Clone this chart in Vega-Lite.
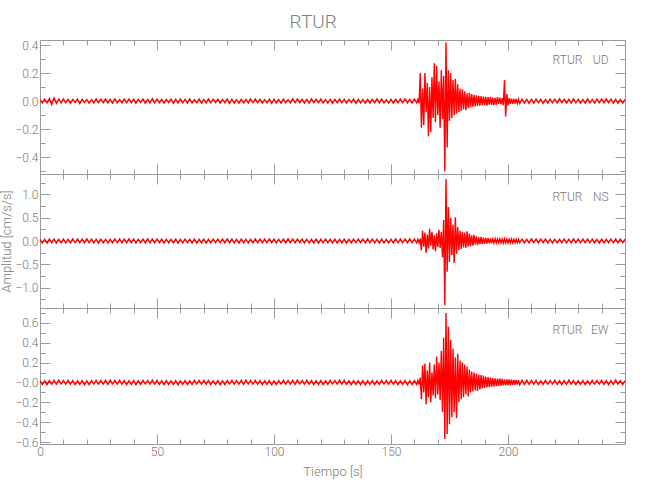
{
"$schema": "https://vega.github.io/schema/vega-lite/v6.json",
"padding": {"left": 0, "top": 12, "right": 5, "bottom": 5},
"spacing": 0,
"bounds": "flush",
"title": {"text": "RTUR", "fontSize": 19, "fontWeight": 300, "color": "#808080", "offset": 7, "anchor": "middle"},
"config": {
  "font": "Roboto, Liberation Sans, sans-serif",
  "view": {"stroke": "#9a9a9a", "strokeWidth": 1},
  "axis": {"domain": false, "grid": false, "tickColor": "#9a9a9a", "tickWidth": 1, "labelColor": "#7a7a7a", "titleColor": "#7a7a7a", "labelFontSize": 12, "labelFontWeight": 300, "titleFontSize": 13, "titleFontWeight": 300, "labelOverlap": false, "labelFlush": false, "labelBound": false}
},
"datasets": {
"ud": [
{"t":0,"v":0.010},{"t":1,"v":-0.013},{"t":2,"v":0.015},{"t":3,"v":-0.012},{"t":4,"v":0.018},{"t":5,"v":-0.024},{"t":6,"v":0.022},{"t":7,"v":-0.017},{"t":8,"v":0.014},{"t":9,"v":-0.012},
{"t":10,"v":0.015},{"t":11,"v":-0.011},{"t":12,"v":0.013},{"t":13,"v":-0.016},{"t":14,"v":0.012},{"t":15,"v":-0.010},{"t":16,"v":0.014},{"t":17,"v":-0.017},{"t":18,"v":0.013},{"t":19,"v":-0.011},
{"t":20,"v":0.012},{"t":21,"v":-0.015},{"t":22,"v":0.010},{"t":23,"v":-0.013},{"t":24,"v":0.016},{"t":25,"v":-0.012},{"t":26,"v":0.014},{"t":27,"v":-0.011},{"t":28,"v":0.015},{"t":29,"v":-0.013},
{"t":30,"v":0.011},{"t":31,"v":-0.014},{"t":32,"v":0.016},{"t":33,"v":-0.012},{"t":34,"v":0.010},{"t":35,"v":-0.013},{"t":36,"v":0.015},{"t":37,"v":-0.012},{"t":38,"v":0.014},{"t":39,"v":-0.011},
{"t":40,"v":0.013},{"t":41,"v":-0.016},{"t":42,"v":0.012},{"t":43,"v":-0.010},{"t":44,"v":0.014},{"t":45,"v":-0.015},{"t":46,"v":0.011},{"t":47,"v":-0.013},{"t":48,"v":0.017},{"t":49,"v":-0.012},
{"t":50,"v":0.014},{"t":51,"v":-0.011},{"t":52,"v":0.013},{"t":53,"v":-0.015},{"t":54,"v":0.012},{"t":55,"v":-0.010},{"t":56,"v":0.014},{"t":57,"v":-0.016},{"t":58,"v":0.012},{"t":59,"v":-0.013},
{"t":60,"v":0.015},{"t":61,"v":-0.011},{"t":62,"v":0.012},{"t":63,"v":-0.014},{"t":64,"v":0.016},{"t":65,"v":-0.013},{"t":66,"v":0.010},{"t":67,"v":-0.012},{"t":68,"v":0.015},{"t":69,"v":-0.014},
{"t":70,"v":0.011},{"t":71,"v":-0.013},{"t":72,"v":0.016},{"t":73,"v":-0.012},{"t":74,"v":0.014},{"t":75,"v":-0.010},{"t":76,"v":0.013},{"t":77,"v":-0.015},{"t":78,"v":0.012},{"t":79,"v":-0.011},
{"t":80,"v":0.014},{"t":81,"v":-0.016},{"t":82,"v":0.012},{"t":83,"v":-0.013},{"t":84,"v":0.010},{"t":85,"v":-0.015},{"t":86,"v":0.012},{"t":87,"v":-0.014},{"t":88,"v":0.011},{"t":89,"v":-0.013},
{"t":90,"v":0.016},{"t":91,"v":-0.012},{"t":92,"v":0.014},{"t":93,"v":-0.011},{"t":94,"v":0.013},{"t":95,"v":-0.015},{"t":96,"v":0.010},{"t":97,"v":-0.012},{"t":98,"v":0.014},{"t":99,"v":-0.016},
{"t":100,"v":0.012},{"t":101,"v":-0.013},{"t":102,"v":0.011},{"t":103,"v":-0.015},{"t":104,"v":0.014},{"t":105,"v":-0.012},{"t":106,"v":0.010},{"t":107,"v":-0.013},{"t":108,"v":0.016},{"t":109,"v":-0.012},
{"t":110,"v":0.014},{"t":111,"v":-0.011},{"t":112,"v":0.013},{"t":113,"v":-0.015},{"t":114,"v":0.012},{"t":115,"v":-0.014},{"t":116,"v":0.016},{"t":117,"v":-0.011},{"t":118,"v":0.013},{"t":119,"v":-0.012},
{"t":120,"v":0.015},{"t":121,"v":-0.013},{"t":122,"v":0.010},{"t":123,"v":-0.014},{"t":124,"v":0.012},{"t":125,"v":-0.016},{"t":126,"v":0.013},{"t":127,"v":-0.011},{"t":128,"v":0.014},{"t":129,"v":-0.012},
{"t":130,"v":0.013},{"t":131,"v":-0.015},{"t":132,"v":0.012},{"t":133,"v":-0.010},{"t":134,"v":0.014},{"t":135,"v":-0.016},{"t":136,"v":0.012},{"t":137,"v":-0.013},{"t":138,"v":0.011},{"t":139,"v":-0.015},
{"t":140,"v":0.012},{"t":141,"v":-0.014},{"t":142,"v":0.013},{"t":143,"v":-0.011},{"t":144,"v":0.016},{"t":145,"v":-0.012},{"t":146,"v":0.015},{"t":147,"v":-0.013},{"t":148,"v":0.010},{"t":149,"v":-0.014},
{"t":150,"v":0.012},{"t":151,"v":-0.015},{"t":152,"v":0.013},{"t":153,"v":-0.011},{"t":154,"v":0.014},{"t":155,"v":-0.012},{"t":156,"v":0.016},{"t":157,"v":-0.013},{"t":158,"v":0.012},{"t":159,"v":-0.014},
{"t":160,"v":0.015},{"t":161,"v":-0.013},
{"t":161.5,"v":0.012},{"t":162,"v":-0.015},{"t":162.5,"v":0.2},{"t":163,"v":-0.19},{"t":163.5,"v":0.09},{"t":164,"v":-0.17},{"t":164.5,"v":0.2},{"t":165,"v":-0.08},{"t":165.5,"v":0.13},{"t":166,"v":-0.25},
{"t":166.5,"v":0.1},{"t":167,"v":-0.22},{"t":167.5,"v":0.17},{"t":168,"v":-0.12},{"t":168.5,"v":0.27},{"t":169,"v":-0.15},{"t":169.5,"v":0.25},{"t":170,"v":-0.1},{"t":170.5,"v":0.14},{"t":171,"v":-0.19},
{"t":171.5,"v":0.22},{"t":172,"v":-0.13},{"t":172.5,"v":0.18},{"t":173,"v":-0.5},{"t":173.5,"v":0.42},{"t":174,"v":-0.33},{"t":174.5,"v":0.22},{"t":175,"v":-0.14},{"t":175.5,"v":0.2},{"t":176,"v":-0.12},
{"t":176.5,"v":0.15},{"t":177,"v":-0.1},{"t":177.5,"v":0.16},{"t":178,"v":-0.09},{"t":178.5,"v":0.12},{"t":179,"v":-0.08},{"t":179.5,"v":0.09},{"t":180,"v":-0.07},{"t":180.5,"v":0.085},{"t":181,"v":-0.06},
{"t":181.5,"v":0.07},{"t":182,"v":-0.065},{"t":182.5,"v":0.055},{"t":183,"v":-0.05},{"t":183.5,"v":0.06},{"t":184,"v":-0.045},{"t":184.5,"v":0.05},{"t":185,"v":-0.04},{"t":185.5,"v":0.045},{"t":186,"v":-0.038},
{"t":186.5,"v":0.042},{"t":187,"v":-0.035},{"t":187.5,"v":0.038},{"t":188,"v":-0.032},{"t":188.5,"v":0.035},{"t":189,"v":-0.03},{"t":189.5,"v":0.033},{"t":190,"v":-0.028},{"t":190.5,"v":0.03},{"t":191,"v":-0.032},
{"t":191.5,"v":0.028},{"t":192,"v":-0.025},{"t":192.5,"v":0.03},{"t":193,"v":-0.027},{"t":193.5,"v":0.025},{"t":194,"v":-0.028},{"t":194.5,"v":0.024},{"t":195,"v":-0.026},{"t":195.5,"v":0.028},{"t":196,"v":-0.022},
{"t":196.5,"v":0.025},{"t":197,"v":-0.024},{"t":197.5,"v":0.022},{"t":198,"v":-0.03},{"t":198.5,"v":0.15},{"t":199,"v":-0.11},{"t":199.5,"v":0.05},{"t":200,"v":-0.03},{"t":200.5,"v":0.022},{"t":201,"v":-0.02},
{"t":201.5,"v":0.018},{"t":202,"v":-0.02},{"t":202.5,"v":0.016},{"t":203,"v":-0.018},{"t":203.5,"v":0.015},{"t":204,"v":-0.017},{"t":204.5,"v":0.014},{"t":205,"v":-0.016},
{"t":206,"v":0.014},{"t":207,"v":-0.015},{"t":208,"v":0.013},{"t":209,"v":-0.016},{"t":210,"v":0.012},{"t":211,"v":-0.014},{"t":212,"v":0.015},{"t":213,"v":-0.012},{"t":214,"v":0.013},{"t":215,"v":-0.016},
{"t":216,"v":0.011},{"t":217,"v":-0.014},{"t":218,"v":0.015},{"t":219,"v":-0.012},{"t":220,"v":0.014},{"t":221,"v":-0.013},{"t":222,"v":0.016},{"t":223,"v":-0.011},{"t":224,"v":0.013},{"t":225,"v":-0.015},
{"t":226,"v":0.012},{"t":227,"v":-0.014},{"t":228,"v":0.016},{"t":229,"v":-0.012},{"t":230,"v":0.013},{"t":231,"v":-0.015},{"t":232,"v":0.011},{"t":233,"v":-0.014},{"t":234,"v":0.016},{"t":235,"v":-0.013},
{"t":236,"v":0.012},{"t":237,"v":-0.015},{"t":238,"v":0.014},{"t":239,"v":-0.012},{"t":240,"v":0.015},{"t":241,"v":-0.013},{"t":242,"v":0.016},{"t":243,"v":-0.012},{"t":244,"v":0.014},{"t":245,"v":-0.015},
{"t":246,"v":0.013},{"t":247,"v":-0.014},{"t":248,"v":0.012},{"t":249,"v":-0.015},{"t":250,"v":0.013}
],
"ns": [
{"t":0,"v":0.035},{"t":1,"v":-0.040},{"t":2,"v":0.038},{"t":3,"v":-0.045},{"t":4,"v":0.042},{"t":5,"v":-0.036},{"t":6,"v":0.040},{"t":7,"v":-0.044},{"t":8,"v":0.037},{"t":9,"v":-0.041},
{"t":10,"v":0.039},{"t":11,"v":-0.043},{"t":12,"v":0.036},{"t":13,"v":-0.040},{"t":14,"v":0.045},{"t":15,"v":-0.038},{"t":16,"v":0.042},{"t":17,"v":-0.035},{"t":18,"v":0.041},{"t":19,"v":-0.039},
{"t":20,"v":0.044},{"t":21,"v":-0.037},{"t":22,"v":0.040},{"t":23,"v":-0.042},{"t":24,"v":0.036},{"t":25,"v":-0.045},{"t":26,"v":0.039},{"t":27,"v":-0.041},{"t":28,"v":0.038},{"t":29,"v":-0.043},
{"t":30,"v":0.036},{"t":31,"v":-0.040},{"t":32,"v":0.044},{"t":33,"v":-0.038},{"t":34,"v":0.042},{"t":35,"v":-0.035},{"t":36,"v":0.041},{"t":37,"v":-0.039},{"t":38,"v":0.045},{"t":39,"v":-0.037},
{"t":40,"v":0.040},{"t":41,"v":-0.043},{"t":42,"v":0.038},{"t":43,"v":-0.036},{"t":44,"v":0.042},{"t":45,"v":-0.040},{"t":46,"v":0.045},{"t":47,"v":-0.037},{"t":48,"v":0.041},{"t":49,"v":-0.039},
{"t":50,"v":0.043},{"t":51,"v":-0.036},{"t":52,"v":0.040},{"t":53,"v":-0.044},{"t":54,"v":0.038},{"t":55,"v":-0.041},{"t":56,"v":0.035},{"t":57,"v":-0.042},{"t":58,"v":0.039},{"t":59,"v":-0.045},
{"t":60,"v":0.037},{"t":61,"v":-0.040},{"t":62,"v":0.043},{"t":63,"v":-0.038},{"t":64,"v":0.036},{"t":65,"v":-0.042},{"t":66,"v":0.040},{"t":67,"v":-0.044},{"t":68,"v":0.037},{"t":69,"v":-0.041},
{"t":70,"v":0.039},{"t":71,"v":-0.045},{"t":72,"v":0.036},{"t":73,"v":-0.040},{"t":74,"v":0.042},{"t":75,"v":-0.038},{"t":76,"v":0.043},{"t":77,"v":-0.035},{"t":78,"v":0.041},{"t":79,"v":-0.039},
{"t":80,"v":0.044},{"t":81,"v":-0.037},{"t":82,"v":0.040},{"t":83,"v":-0.042},{"t":84,"v":0.036},{"t":85,"v":-0.045},{"t":86,"v":0.039},{"t":87,"v":-0.041},{"t":88,"v":0.038},{"t":89,"v":-0.043},
{"t":90,"v":0.036},{"t":91,"v":-0.040},{"t":92,"v":0.044},{"t":93,"v":-0.038},{"t":94,"v":0.042},{"t":95,"v":-0.035},{"t":96,"v":0.041},{"t":97,"v":-0.039},{"t":98,"v":0.045},{"t":99,"v":-0.037},
{"t":100,"v":0.040},{"t":101,"v":-0.043},{"t":102,"v":0.038},{"t":103,"v":-0.036},{"t":104,"v":0.042},{"t":105,"v":-0.040},{"t":106,"v":0.045},{"t":107,"v":-0.037},{"t":108,"v":0.041},{"t":109,"v":-0.039},
{"t":110,"v":0.043},{"t":111,"v":-0.036},{"t":112,"v":0.040},{"t":113,"v":-0.044},{"t":114,"v":0.038},{"t":115,"v":-0.041},{"t":116,"v":0.035},{"t":117,"v":-0.042},{"t":118,"v":0.039},{"t":119,"v":-0.045},
{"t":120,"v":0.037},{"t":121,"v":-0.040},{"t":122,"v":0.043},{"t":123,"v":-0.038},{"t":124,"v":0.036},{"t":125,"v":-0.042},{"t":126,"v":0.040},{"t":127,"v":-0.044},{"t":128,"v":0.037},{"t":129,"v":-0.041},
{"t":130,"v":0.039},{"t":131,"v":-0.045},{"t":132,"v":0.036},{"t":133,"v":-0.040},{"t":134,"v":0.042},{"t":135,"v":-0.038},{"t":136,"v":0.043},{"t":137,"v":-0.035},{"t":138,"v":0.041},{"t":139,"v":-0.039},
{"t":140,"v":0.044},{"t":141,"v":-0.037},{"t":142,"v":0.040},{"t":143,"v":-0.042},{"t":144,"v":0.036},{"t":145,"v":-0.045},{"t":146,"v":0.039},{"t":147,"v":-0.041},{"t":148,"v":0.038},{"t":149,"v":-0.043},
{"t":150,"v":0.036},{"t":151,"v":-0.040},{"t":152,"v":0.044},{"t":153,"v":-0.038},{"t":154,"v":0.042},{"t":155,"v":-0.035},{"t":156,"v":0.041},{"t":157,"v":-0.039},{"t":158,"v":0.045},{"t":159,"v":-0.037},
{"t":160,"v":0.040},{"t":161,"v":-0.042},
{"t":161.5,"v":0.035},{"t":162,"v":-0.04},{"t":162.5,"v":0.05},{"t":163,"v":-0.2},{"t":163.5,"v":0.22},{"t":164,"v":-0.12},{"t":164.5,"v":0.18},{"t":165,"v":-0.25},{"t":165.5,"v":0.14},{"t":166,"v":-0.16},
{"t":166.5,"v":0.26},{"t":167,"v":-0.1},{"t":167.5,"v":0.2},{"t":168,"v":-0.18},{"t":168.5,"v":0.12},{"t":169,"v":-0.22},{"t":169.5,"v":0.17},{"t":170,"v":-0.13},{"t":170.5,"v":0.24},{"t":171,"v":-0.15},
{"t":171.5,"v":0.2},{"t":172,"v":-0.35},{"t":172.5,"v":0.45},{"t":173,"v":-1.38},{"t":173.5,"v":1.33},{"t":174,"v":-0.66},{"t":174.5,"v":0.73},{"t":175,"v":-0.45},{"t":175.5,"v":0.5},{"t":176,"v":-0.3},
{"t":176.5,"v":0.35},{"t":177,"v":-0.47},{"t":177.5,"v":0.51},{"t":178,"v":-0.28},{"t":178.5,"v":0.3},{"t":179,"v":-0.2},{"t":179.5,"v":0.22},{"t":180,"v":-0.17},{"t":180.5,"v":0.2},{"t":181,"v":-0.14},
{"t":181.5,"v":0.18},{"t":182,"v":-0.15},{"t":182.5,"v":0.21},{"t":183,"v":-0.12},{"t":183.5,"v":0.16},{"t":184,"v":-0.11},{"t":184.5,"v":0.12},{"t":185,"v":-0.1},{"t":185.5,"v":0.13},{"t":186,"v":-0.08},
{"t":186.5,"v":0.1},{"t":187,"v":-0.09},{"t":187.5,"v":0.08},{"t":188,"v":-0.07},{"t":188.5,"v":0.09},{"t":189,"v":-0.065},{"t":189.5,"v":0.07},{"t":190,"v":-0.06},{"t":190.5,"v":0.065},{"t":191,"v":-0.055},
{"t":191.5,"v":0.06},{"t":192,"v":-0.05},{"t":192.5,"v":0.055},{"t":193,"v":-0.05},{"t":193.5,"v":0.048},{"t":194,"v":-0.045},{"t":194.5,"v":0.05},{"t":195,"v":-0.042},{"t":195.5,"v":0.045},{"t":196,"v":-0.04},
{"t":196.5,"v":0.048},{"t":197,"v":-0.042},{"t":197.5,"v":0.04},{"t":198,"v":-0.045},{"t":198.5,"v":0.05},{"t":199,"v":-0.04},{"t":199.5,"v":0.042},{"t":200,"v":-0.045},{"t":200.5,"v":0.04},{"t":201,"v":-0.038},
{"t":201.5,"v":0.042},{"t":202,"v":-0.04},{"t":202.5,"v":0.038},{"t":203,"v":-0.036},{"t":203.5,"v":0.04},{"t":204,"v":-0.038},{"t":204.5,"v":0.035},{"t":205,"v":-0.037},
{"t":206,"v":0.038},{"t":207,"v":-0.042},{"t":208,"v":0.036},{"t":209,"v":-0.040},{"t":210,"v":0.044},{"t":211,"v":-0.037},{"t":212,"v":0.041},{"t":213,"v":-0.039},{"t":214,"v":0.043},{"t":215,"v":-0.036},
{"t":216,"v":0.040},{"t":217,"v":-0.042},{"t":218,"v":0.038},{"t":219,"v":-0.045},{"t":220,"v":0.037},{"t":221,"v":-0.041},{"t":222,"v":0.039},{"t":223,"v":-0.036},{"t":224,"v":0.043},{"t":225,"v":-0.040},
{"t":226,"v":0.038},{"t":227,"v":-0.042},{"t":228,"v":0.044},{"t":229,"v":-0.037},{"t":230,"v":0.040},{"t":231,"v":-0.039},{"t":232,"v":0.041},{"t":233,"v":-0.036},{"t":234,"v":0.043},{"t":235,"v":-0.038},
{"t":236,"v":0.040},{"t":237,"v":-0.042},{"t":238,"v":0.037},{"t":239,"v":-0.044},{"t":240,"v":0.039},{"t":241,"v":-0.041},{"t":242,"v":0.036},{"t":243,"v":-0.040},{"t":244,"v":0.043},{"t":245,"v":-0.038},
{"t":246,"v":0.042},{"t":247,"v":-0.037},{"t":248,"v":0.040},{"t":249,"v":-0.039},{"t":250,"v":0.041}
],
"ew": [
{"t":0,"v":0.018},{"t":1,"v":-0.020},{"t":2,"v":0.016},{"t":3,"v":-0.022},{"t":4,"v":0.019},{"t":5,"v":-0.017},{"t":6,"v":0.021},{"t":7,"v":-0.018},{"t":8,"v":0.023},{"t":9,"v":-0.016},
{"t":10,"v":0.020},{"t":11,"v":-0.018},{"t":12,"v":0.022},{"t":13,"v":-0.017},{"t":14,"v":0.019},{"t":15,"v":-0.021},{"t":16,"v":0.016},{"t":17,"v":-0.020},{"t":18,"v":0.018},{"t":19,"v":-0.023},
{"t":20,"v":0.017},{"t":21,"v":-0.021},{"t":22,"v":0.019},{"t":23,"v":-0.016},{"t":24,"v":0.022},{"t":25,"v":-0.018},{"t":26,"v":0.020},{"t":27,"v":-0.017},{"t":28,"v":0.021},{"t":29,"v":-0.019},
{"t":30,"v":0.023},{"t":31,"v":-0.016},{"t":32,"v":0.020},{"t":33,"v":-0.018},{"t":34,"v":0.022},{"t":35,"v":-0.017},{"t":36,"v":0.019},{"t":37,"v":-0.021},{"t":38,"v":0.016},{"t":39,"v":-0.020},
{"t":40,"v":0.018},{"t":41,"v":-0.022},{"t":42,"v":0.017},{"t":43,"v":-0.019},{"t":44,"v":0.021},{"t":45,"v":-0.016},{"t":46,"v":0.020},{"t":47,"v":-0.018},{"t":48,"v":0.023},{"t":49,"v":-0.017},
{"t":50,"v":0.021},{"t":51,"v":-0.019},{"t":52,"v":0.016},{"t":53,"v":-0.022},{"t":54,"v":0.018},{"t":55,"v":-0.020},{"t":56,"v":0.017},{"t":57,"v":-0.021},{"t":58,"v":0.019},{"t":59,"v":-0.023},
{"t":60,"v":0.016},{"t":61,"v":-0.020},{"t":62,"v":0.018},{"t":63,"v":-0.022},{"t":64,"v":0.017},{"t":65,"v":-0.019},{"t":66,"v":0.021},{"t":67,"v":-0.016},{"t":68,"v":0.020},{"t":69,"v":-0.018},
{"t":70,"v":0.022},{"t":71,"v":-0.017},{"t":72,"v":0.019},{"t":73,"v":-0.021},{"t":74,"v":0.016},{"t":75,"v":-0.020},{"t":76,"v":0.018},{"t":77,"v":-0.023},{"t":78,"v":0.017},{"t":79,"v":-0.021},
{"t":80,"v":0.019},{"t":81,"v":-0.016},{"t":82,"v":0.022},{"t":83,"v":-0.018},{"t":84,"v":0.020},{"t":85,"v":-0.017},{"t":86,"v":0.021},{"t":87,"v":-0.019},{"t":88,"v":0.023},{"t":89,"v":-0.016},
{"t":90,"v":0.020},{"t":91,"v":-0.018},{"t":92,"v":0.022},{"t":93,"v":-0.017},{"t":94,"v":0.019},{"t":95,"v":-0.021},{"t":96,"v":0.016},{"t":97,"v":-0.020},{"t":98,"v":0.018},{"t":99,"v":-0.023},
{"t":100,"v":0.017},{"t":101,"v":-0.021},{"t":102,"v":0.019},{"t":103,"v":-0.016},{"t":104,"v":0.022},{"t":105,"v":-0.018},{"t":106,"v":0.020},{"t":107,"v":-0.017},{"t":108,"v":0.021},{"t":109,"v":-0.019},
{"t":110,"v":0.023},{"t":111,"v":-0.016},{"t":112,"v":0.020},{"t":113,"v":-0.018},{"t":114,"v":0.022},{"t":115,"v":-0.017},{"t":116,"v":0.019},{"t":117,"v":-0.021},{"t":118,"v":0.016},{"t":119,"v":-0.020},
{"t":120,"v":0.018},{"t":121,"v":-0.022},{"t":122,"v":0.017},{"t":123,"v":-0.019},{"t":124,"v":0.021},{"t":125,"v":-0.016},{"t":126,"v":0.020},{"t":127,"v":-0.018},{"t":128,"v":0.023},{"t":129,"v":-0.017},
{"t":130,"v":0.021},{"t":131,"v":-0.019},{"t":132,"v":0.016},{"t":133,"v":-0.022},{"t":134,"v":0.018},{"t":135,"v":-0.020},{"t":136,"v":0.017},{"t":137,"v":-0.021},{"t":138,"v":0.019},{"t":139,"v":-0.023},
{"t":140,"v":0.016},{"t":141,"v":-0.020},{"t":142,"v":0.018},{"t":143,"v":-0.022},{"t":144,"v":0.017},{"t":145,"v":-0.019},{"t":146,"v":0.021},{"t":147,"v":-0.016},{"t":148,"v":0.020},{"t":149,"v":-0.018},
{"t":150,"v":0.022},{"t":151,"v":-0.017},{"t":152,"v":0.019},{"t":153,"v":-0.021},{"t":154,"v":0.016},{"t":155,"v":-0.020},{"t":156,"v":0.018},{"t":157,"v":-0.023},{"t":158,"v":0.017},{"t":159,"v":-0.021},
{"t":160,"v":0.019},{"t":161,"v":-0.020},
{"t":161.5,"v":0.02},{"t":162,"v":-0.022},{"t":162.5,"v":0.05},{"t":163,"v":-0.17},{"t":163.5,"v":0.17},{"t":164,"v":-0.1},{"t":164.5,"v":0.19},{"t":165,"v":-0.22},{"t":165.5,"v":0.12},{"t":166,"v":-0.15},
{"t":166.5,"v":0.2},{"t":167,"v":-0.2},{"t":167.5,"v":0.1},{"t":168,"v":-0.13},{"t":168.5,"v":0.18},{"t":169,"v":-0.16},{"t":169.5,"v":0.26},{"t":170,"v":-0.12},{"t":170.5,"v":0.2},{"t":171,"v":-0.18},
{"t":171.5,"v":0.32},{"t":172,"v":-0.3},{"t":172.5,"v":0.45},{"t":173,"v":-0.57},{"t":173.5,"v":0.7},{"t":174,"v":-0.52},{"t":174.5,"v":0.56},{"t":175,"v":-0.42},{"t":175.5,"v":0.43},{"t":176,"v":-0.35},
{"t":176.5,"v":0.34},{"t":177,"v":-0.3},{"t":177.5,"v":0.25},{"t":178,"v":-0.36},{"t":178.5,"v":0.29},{"t":179,"v":-0.2},{"t":179.5,"v":0.22},{"t":180,"v":-0.17},{"t":180.5,"v":0.2},{"t":181,"v":-0.15},
{"t":181.5,"v":0.18},{"t":182,"v":-0.12},{"t":182.5,"v":0.16},{"t":183,"v":-0.14},{"t":183.5,"v":0.13},{"t":184,"v":-0.1},{"t":184.5,"v":0.11},{"t":185,"v":-0.09},{"t":185.5,"v":0.1},{"t":186,"v":-0.08},
{"t":186.5,"v":0.09},{"t":187,"v":-0.085},{"t":187.5,"v":0.08},{"t":188,"v":-0.07},{"t":188.5,"v":0.075},{"t":189,"v":-0.06},{"t":189.5,"v":0.07},{"t":190,"v":-0.055},{"t":190.5,"v":0.06},{"t":191,"v":-0.05},
{"t":191.5,"v":0.055},{"t":192,"v":-0.048},{"t":192.5,"v":0.05},{"t":193,"v":-0.045},{"t":193.5,"v":0.045},{"t":194,"v":-0.04},{"t":194.5,"v":0.042},{"t":195,"v":-0.038},{"t":195.5,"v":0.04},{"t":196,"v":-0.035},
{"t":196.5,"v":0.038},{"t":197,"v":-0.033},{"t":197.5,"v":0.035},{"t":198,"v":-0.03},{"t":198.5,"v":0.032},{"t":199,"v":-0.03},{"t":199.5,"v":0.03},{"t":200,"v":-0.028},{"t":200.5,"v":0.03},{"t":201,"v":-0.027},
{"t":201.5,"v":0.028},{"t":202,"v":-0.025},{"t":202.5,"v":0.026},{"t":203,"v":-0.024},{"t":203.5,"v":0.025},{"t":204,"v":-0.022},{"t":204.5,"v":0.024},{"t":205,"v":-0.023},
{"t":206,"v":0.022},{"t":207,"v":-0.020},{"t":208,"v":0.023},{"t":209,"v":-0.019},{"t":210,"v":0.021},{"t":211,"v":-0.018},{"t":212,"v":0.020},{"t":213,"v":-0.022},{"t":214,"v":0.017},{"t":215,"v":-0.019},
{"t":216,"v":0.021},{"t":217,"v":-0.018},{"t":218,"v":0.020},{"t":219,"v":-0.016},{"t":220,"v":0.022},{"t":221,"v":-0.019},{"t":222,"v":0.017},{"t":223,"v":-0.021},{"t":224,"v":0.018},{"t":225,"v":-0.020},
{"t":226,"v":0.023},{"t":227,"v":-0.017},{"t":228,"v":0.019},{"t":229,"v":-0.021},{"t":230,"v":0.016},{"t":231,"v":-0.020},{"t":232,"v":0.018},{"t":233,"v":-0.022},{"t":234,"v":0.017},{"t":235,"v":-0.019},
{"t":236,"v":0.021},{"t":237,"v":-0.018},{"t":238,"v":0.020},{"t":239,"v":-0.016},{"t":240,"v":0.022},{"t":241,"v":-0.019},{"t":242,"v":0.017},{"t":243,"v":-0.021},{"t":244,"v":0.018},{"t":245,"v":-0.020},
{"t":246,"v":0.023},{"t":247,"v":-0.017},{"t":248,"v":0.019},{"t":249,"v":-0.021},{"t":250,"v":0.018}
]
},
"vconcat": [
{
  "width": 585, "height": 134,
  "data": {"name": "ud"},
  "layer": [
    {"mark": {"type": "area", "color": "#ff0000", "opacity": 0.75, "clip": true},
     "encoding": {"x": {"field": "t", "type": "quantitative", "axis": null}, "y": {"field": "v", "type": "quantitative", "axis": null}, "y2": {"datum": 0}}},
    {"mark": {"type": "line", "color": "#ff0000", "strokeWidth": 1.4, "clip": true},
     "encoding": {
       "x": {"field": "t", "type": "quantitative", "scale": {"domain": [0, 250], "nice": false, "zero": false},
             "axis": {"orient": "bottom", "values": [0,10,20,30,40,50,60,70,80,90,100,110,120,130,140,150,160,170,180,190,200,210,220,230,240,250], "labels": false, "title": null,
                      "tickSize": {"condition": {"test": "datum.value % 50 == 0", "value": -10}, "value": -5}}},
       "y": {"field": "v", "type": "quantitative", "scale": {"domain": [-0.52, 0.436], "nice": false, "zero": false},
             "axis": {"orient": "left", "values": [-0.5,-0.4,-0.3,-0.2,-0.1,0,0.1,0.2,0.3,0.4], "title": null, "labelPadding": 12,
                      "labelExpr": "abs(datum.value*5 - round(datum.value*5)) < 0.001 ? format(datum.value, '.1f') : ''",
                      "tickSize": {"condition": {"test": "abs(datum.value*5 - round(datum.value*5)) < 0.001", "value": -10}, "value": -5}}}
     }},
    {"mark": {"type": "point", "opacity": 0},
     "encoding": {
       "x": {"datum": 0, "type": "quantitative",
             "axis": {"orient": "top", "values": [0,10,20,30,40,50,60,70,80,90,100,110,120,130,140,150,160,170,180,190,200,210,220,230,240,250], "labels": false, "title": null,
                      "tickSize": {"condition": {"test": "datum.value % 50 == 0", "value": -10}, "value": -5}}},
       "y": {"datum": 0, "type": "quantitative",
             "axis": {"orient": "right", "values": [-0.5,-0.4,-0.3,-0.2,-0.1,0,0.1,0.2,0.3,0.4], "labels": false, "title": null,
                      "tickSize": {"condition": {"test": "abs(datum.value*5 - round(datum.value*5)) < 0.001", "value": -10}, "value": -5}}}
     }},
    {"data": {"values": [{}]}, "mark": {"type": "text", "align": "right", "baseline": "middle", "fontSize": 12, "fontWeight": 300, "color": "#7a7a7a"},
     "encoding": {"x": {"datum": 231.8, "type": "quantitative", "axis": null}, "y": {"datum": 0.295, "type": "quantitative", "axis": null}, "text": {"value": "RTUR"}}},
    {"data": {"values": [{}]}, "mark": {"type": "text", "align": "right", "baseline": "middle", "fontSize": 12, "fontWeight": 300, "color": "#7a7a7a"},
     "encoding": {"x": {"datum": 243, "type": "quantitative", "axis": null}, "y": {"datum": 0.295, "type": "quantitative", "axis": null}, "text": {"value": "UD"}}}
  ],
  "resolve": {"axis": {"x": "independent", "y": "independent"}}
},
{
  "width": 585, "height": 134,
  "data": {"name": "ns"},
  "layer": [
    {"mark": {"type": "area", "color": "#ff0000", "opacity": 0.75, "clip": true},
     "encoding": {"x": {"field": "t", "type": "quantitative", "axis": null}, "y": {"field": "v", "type": "quantitative", "axis": null}, "y2": {"datum": 0}}},
    {"mark": {"type": "line", "color": "#ff0000", "strokeWidth": 1.4, "clip": true},
     "encoding": {
       "x": {"field": "t", "type": "quantitative", "scale": {"domain": [0, 250], "nice": false, "zero": false},
             "axis": {"orient": "bottom", "values": [0,10,20,30,40,50,60,70,80,90,100,110,120,130,140,150,160,170,180,190,200,210,220,230,240,250], "labels": false, "title": null,
                      "tickSize": {"condition": {"test": "datum.value % 50 == 0", "value": -10}, "value": -5}}},
       "y": {"field": "v", "type": "quantitative", "scale": {"domain": [-1.44, 1.44], "nice": false, "zero": false},
             "axis": {"orient": "left", "values": [-1.25,-1,-0.75,-0.5,-0.25,0,0.25,0.5,0.75,1,1.25], "title": "Amplitud [cm/s/s]", "titlePadding": 1, "labelPadding": 12,
                      "labelExpr": "abs(datum.value*2 - round(datum.value*2)) < 0.001 ? format(datum.value, '.1f') : ''",
                      "tickSize": {"condition": {"test": "abs(datum.value*2 - round(datum.value*2)) < 0.001", "value": -10}, "value": -5}}}
     }},
    {"mark": {"type": "point", "opacity": 0},
     "encoding": {
       "x": {"datum": 0, "type": "quantitative",
             "axis": {"orient": "top", "values": [0,10,20,30,40,50,60,70,80,90,100,110,120,130,140,150,160,170,180,190,200,210,220,230,240,250], "labels": false, "title": null,
                      "tickSize": {"condition": {"test": "datum.value % 50 == 0", "value": -10}, "value": -5}}},
       "y": {"datum": 0, "type": "quantitative",
             "axis": {"orient": "right", "values": [-1.25,-1,-0.75,-0.5,-0.25,0,0.25,0.5,0.75,1,1.25], "labels": false, "title": null,
                      "tickSize": {"condition": {"test": "abs(datum.value*2 - round(datum.value*2)) < 0.001", "value": -10}, "value": -5}}}
     }},
    {"data": {"values": [{}]}, "mark": {"type": "text", "align": "right", "baseline": "middle", "fontSize": 12, "fontWeight": 300, "color": "#7a7a7a"},
     "encoding": {"x": {"datum": 231.8, "type": "quantitative", "axis": null}, "y": {"datum": 0.95, "type": "quantitative", "axis": null}, "text": {"value": "RTUR"}}},
    {"data": {"values": [{}]}, "mark": {"type": "text", "align": "right", "baseline": "middle", "fontSize": 12, "fontWeight": 300, "color": "#7a7a7a"},
     "encoding": {"x": {"datum": 243, "type": "quantitative", "axis": null}, "y": {"datum": 0.95, "type": "quantitative", "axis": null}, "text": {"value": "NS"}}}
  ],
  "resolve": {"axis": {"x": "independent", "y": "independent"}}
},
{
  "width": 585, "height": 136,
  "data": {"name": "ew"},
  "layer": [
    {"mark": {"type": "area", "color": "#ff0000", "opacity": 0.75, "clip": true},
     "encoding": {"x": {"field": "t", "type": "quantitative", "axis": null}, "y": {"field": "v", "type": "quantitative", "axis": null}, "y2": {"datum": 0}}},
    {"mark": {"type": "line", "color": "#ff0000", "strokeWidth": 1.4, "clip": true},
     "encoding": {
       "x": {"field": "t", "type": "quantitative", "scale": {"domain": [0, 250], "nice": false, "zero": false},
             "axis": {"orient": "bottom", "values": [0,10,20,30,40,50,60,70,80,90,100,110,120,130,140,150,160,170,180,190,200,210,220,230,240,250], "title": "Tiempo [s]", "labelPadding": 12, "titlePadding": 3,
                      "labelExpr": "datum.value % 50 == 0 && datum.value < 250 ? datum.label : ''",
                      "tickSize": {"condition": {"test": "datum.value % 50 == 0", "value": -10}, "value": -5}}},
       "y": {"field": "v", "type": "quantitative", "scale": {"domain": [-0.62, 0.75], "nice": false, "zero": false},
             "axis": {"orient": "left", "values": [-0.6,-0.5,-0.4,-0.3,-0.2,-0.1,0,0.1,0.2,0.3,0.4,0.5,0.6,0.7], "title": null, "labelPadding": 12,
                      "labelExpr": "abs(datum.value*5 - round(datum.value*5)) < 0.001 ? (datum.value == 0 ? '\u22120.0' : format(datum.value, '.1f')) : ''",
                      "tickSize": {"condition": {"test": "abs(datum.value*5 - round(datum.value*5)) < 0.001", "value": -10}, "value": -5}}}
     }},
    {"mark": {"type": "point", "opacity": 0},
     "encoding": {
       "x": {"datum": 0, "type": "quantitative",
             "axis": {"orient": "top", "values": [0,10,20,30,40,50,60,70,80,90,100,110,120,130,140,150,160,170,180,190,200,210,220,230,240,250], "labels": false, "title": null,
                      "tickSize": {"condition": {"test": "datum.value % 50 == 0", "value": -10}, "value": -5}}},
       "y": {"datum": 0, "type": "quantitative",
             "axis": {"orient": "right", "values": [-0.6,-0.5,-0.4,-0.3,-0.2,-0.1,0,0.1,0.2,0.3,0.4,0.5,0.6,0.7], "labels": false, "title": null,
                      "tickSize": {"condition": {"test": "abs(datum.value*5 - round(datum.value*5)) < 0.001", "value": -10}, "value": -5}}}
     }},
    {"data": {"values": [{}]}, "mark": {"type": "text", "align": "right", "baseline": "middle", "fontSize": 12, "fontWeight": 300, "color": "#7a7a7a"},
     "encoding": {"x": {"datum": 231.8, "type": "quantitative", "axis": null}, "y": {"datum": 0.53, "type": "quantitative", "axis": null}, "text": {"value": "RTUR"}}},
    {"data": {"values": [{}]}, "mark": {"type": "text", "align": "right", "baseline": "middle", "fontSize": 12, "fontWeight": 300, "color": "#7a7a7a"},
     "encoding": {"x": {"datum": 243, "type": "quantitative", "axis": null}, "y": {"datum": 0.53, "type": "quantitative", "axis": null}, "text": {"value": "EW"}}}
  ],
  "resolve": {"axis": {"x": "independent", "y": "independent"}}
}
]
}
